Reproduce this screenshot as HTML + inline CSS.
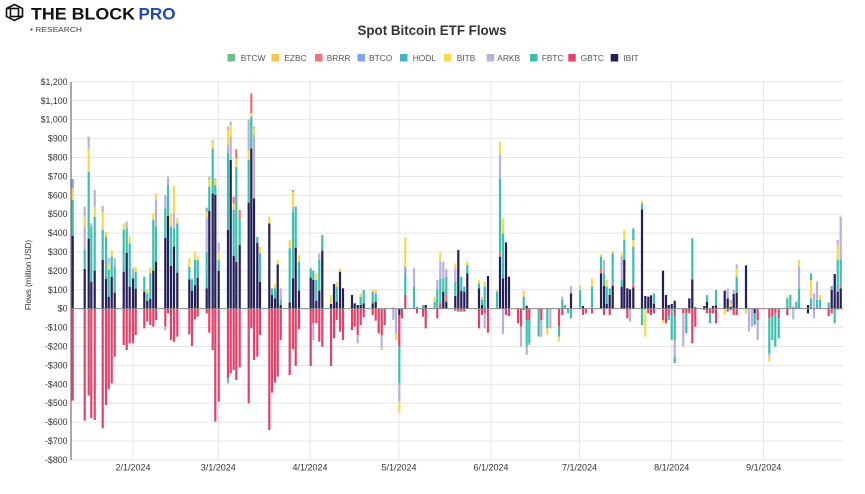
<!DOCTYPE html>
<html>
<head>
<meta charset="utf-8">
<style>
  html,body{margin:0;padding:0;background:#fff;}
  body{width:865px;height:494px;overflow:hidden;}
  svg{display:block;font-family:"Liberation Sans",Arial,sans-serif;}
</style>
</head>
<body>
<svg id="chart" width="865" height="494" viewBox="0 0 865 494" xmlns="http://www.w3.org/2000/svg">
  <rect x="0" y="0" width="865" height="494" fill="#ffffff"/>
  <!-- Logo -->
  <g fill="none" stroke="#111" stroke-width="1.6">
    <polygon points="14.5,4.5 22.5,8.5 22.5,16.5 14.5,20.5 6.5,16.5 6.5,8.5"/>
    <rect x="10.5" y="8.5" width="8" height="8"/>
    <line x1="6.5" y1="8.5" x2="10.5" y2="8.5"/>
    <line x1="22.5" y1="16.5" x2="18.5" y2="16.5"/>
  </g>
  <text x="31" y="19.5" font-size="16.5" font-weight="bold" fill="#111" textLength="104" lengthAdjust="spacingAndGlyphs">THE BLOCK</text>
  <text x="138.5" y="19.5" font-size="16.5" font-weight="bold" fill="#1d48b5" textLength="37" lengthAdjust="spacingAndGlyphs">PRO</text>
  <text x="30" y="32" font-size="7.6" fill="#444" textLength="52" lengthAdjust="spacingAndGlyphs">• RESEARCH</text>
  <!-- Title -->
  <text x="357.5" y="35" font-size="13.6" font-weight="bold" fill="#333" textLength="149" lengthAdjust="spacingAndGlyphs">Spot Bitcoin ETF Flows</text>
  <g id="legend"></g>
  <g id="grid"></g>
  <g id="bars"></g>
  <g id="axes"></g>
  <text transform="translate(31,275) rotate(-90)" text-anchor="middle" font-size="8" fill="#333">Flows (million USD)</text>
</svg>
<script>
(function(){
  var NS="http://www.w3.org/2000/svg";
  function el(tag,attrs,parent,text){
    var e=document.createElementNS(NS,tag);
    for(var k in attrs) e.setAttribute(k,attrs[k]);
    if(text!==undefined) e.textContent=text;
    parent.appendChild(e); return e;
  }
  // Legend
  var lg=document.getElementById('legend');
  var leg=[["BTCW","#6dbf89",227.5,240.7],["EZBC","#f8c750",271.5,284.3],["BRRR","#ef7474",315,326.7],
           ["BTCO","#7fa7f1",357.5,369],["HODL","#3fb7c2",400,412.7],["BITB","#f8da4e",444,456.7],
           ["ARKB","#b6b0e3",486.7,497.3],["FBTC","#3dbcab",530,541.7],["GBTC","#e2446b",568.3,580.7],
           ["IBIT","#222058",610.7,623.3]];
  leg.forEach(function(l){
    el('rect',{x:l[2],y:54,width:7.5,height:7.5,fill:l[1]},lg);
    el('text',{x:l[3],y:61,'font-size':8.4,fill:'#555'},lg,l[0]);
  });
  // Grid
  var g=document.getElementById('grid');
  var X0=71,X1=843,Z=308.67,S=0.189;
  for(var v=-800;v<=1200;v+=100){
    var y=Z-v*S;
    el('line',{x1:X0,x2:X1,y1:y,y2:y,stroke:'#e4e4e4','stroke-width':1},g);
    var a=Math.abs(v), s=a>=1000?(Math.floor(a/1000)+","+("00"+(a%1000)).slice(-3)):String(a);
    var lab=(v<0?"-$":"$")+s;
    el('text',{x:67.5,y:y+3,'text-anchor':'end','font-size':8.8,fill:'#333'},g,lab);
  }
  var months=[[133,"2/1/2024"],[218.3,"3/1/2024"],[310,"4/1/2024"],[399,"5/1/2024"],[491,"6/1/2024"],[579.5,"7/1/2024"],[671.7,"8/1/2024"],[763.7,"9/1/2024"]];
  months.forEach(function(m){
    el('line',{x1:m[0],x2:m[0],y1:82,y2:460,stroke:'#e4e4e4','stroke-width':1},g);
    el('text',{x:m[0],y:470.5,'text-anchor':'middle','font-size':9,fill:'#333'},g,m[1]);
  });
  // Bars
  var C={n:'#231f58',t:'#3dbfae',y:'#f6d94c',p:'#b7b0e0',b:'#7ea5ee',r:'#e0426b',s:'#ec7373',o:'#f6c452',g:'#6dbd86',h:'#3bb3c3'};
  var D=[
[72.7,"n468 t360 y325 b297","r962"],
[84.7,"n567 t510 p440 y410 p380","r1022"],
[88.7,"n476 t275 y205 p170","r947"],
[91.3,"n605 t440 p430","r1015"],
[94.7,"n572 t410 y380 p330","r1020"],
[102.7,"n540 t450 y395 p378","r1045"],
[106,"n597 t470 y455","r975"],
[108.7,"n650 t570 y550 p535","r928"],
[111.7,"n590 t530 y510","r910"],
[114.7,"n638 t560 p535","r830"],
[123.7,"n576 t450 y430","r795"],
[126.7,"n518 t445 p425","r810"],
[129.7,"n620 t490 y470","r790"],
[133,"n596 t590 p565","r790"],
[135.7,"n626 t575 y560","r765"],
[144.3,"n636 t590","r745"],
[147.3,"n662 t640 y628","r725"],
[150.3,"n656 t580 y562","r735"],
[153.3,"n572 t420 y400","r740"],
[156,"n545 t440 p360 y340","r720"],
[165.3,"n474 t385 p345","r740 p750"],
[168,"n408 t315 p290","r700"],
[171,"n558 t440 y400","r780"],
[174,"n500 t445 p400 y318","r785"],
[177.3,"n578 t430 y415","r770"],
[189.3,"n598 t560 y535","r763"],
[192,"n632 t600 p595","r798"],
[195,"n616 t540 y515","r718"],
[197.7,"n593 t540 y530","r710"],
[206.7,"n625 t515 p410 y395 b383","r700"],
[209.3,"n392 t320 y300 p290","r758"],
[212.7,"n340 t205 y185 p180","r810"],
[215.3,"n345 t315 y300 p295","r1025"],
[218.7,"n572 t540 y515 p488","r965"],
[228,"n450 t220 p195 y150 p140","r895 b910"],
[230.7,"n240 p170 y135 p125","r880"],
[233.7,"n528 t390 y370 s350","r870"],
[236.3,"n546 t260 y235 s208","r900"],
[239.7,"n495 t420 s390","r862"],
[248.7,"n368 t240 y210 p118","r970"],
[251.3,"n205 t110 y100 s40","r745"],
[254,"n355 p165 y145 p140","r840"],
[257.3,"n488 t470","r830"],
[260,"n606 t520 y500","r765"],
[269.3,"n430 y410","r1050"],
[272,"n645 t625","r938"],
[275,"n655 t625 y612","r908"],
[277.7,"n553 y540","r890"],
[280.7,"n675 t660 p625","r780"],
[289.7,"n667 t505 y480","r885"],
[293,"n595 t395 p380 y335 s330","r808"],
[295.7,"n503 t380","r858"],
[299,"n632 t545 y525","r748"],
[310.7,"n593 t565","r858"],
[313.3,"n600 t572","r730 p780"],
[316.3,"n663 t600 y580","r730"],
[319.3,"n632 t540 p520","r785"],
[322.3,"n512 t465","r800"],
[331,"n672 y645","r858"],
[334,"n612","r775"],
[336.7,"n665 t620 y605","r720"],
[340,"n575 y565","r755"],
[343,"n625","r780"],
[352,"n645","r750"],
[354.7,"n670","r740"],
[357.7,"n675","r765 p790"],
[360.7,"n675 t650 y640","r735"],
[363.7,"n670 t630","r712"],
[372.7,"n670 t635 y630","r705"],
[375.7,"n665 t640 y630","r722"],
[378.7,"","r760"],
[381.7,"","r765 p800 o810"],
[384.7,"","r735"],
[393.3,"y680","p720"],
[396,"","p760 y780"],
[399.3,"","n705 r800 t910 p965 y1000"],
[402,"","r715"],
[405.3,"r645 t585 b560 y472",""],
[414,"t620 p565",""],
[417,"t680","r700"],
[423,"t675","r710"],
[425.7,"n675","r745"],
[434.7,"t665 y650",""],
[437.3,"t630 p600","r715"],
[440.3,"r670 t595 p545 y518",""],
[443.3,"n635 t595 p545",""],
[446.3,"n665 s645 t590 p570 y565",""],
[455.3,"n648 t605 p565 y550","r692"],
[458.3,"n510","r695"],
[461.3,"n632 t590","r695"],
[464.3,"n635 t620","r695"],
[467.3,"n580 t555 y545",""],
[479,"n625 t610 y600","r745"],
[482,"n675 t660 y650","r705"],
[484.7,"t620 y605","r700 p745"],
[488,"n588","r758"],
[497,"t635 y628",""],
[500,"n530 s518 t295 p225 y185",""],
[503,"n595 t460 y415","p762"],
[506,"n487","r705"],
[509,"n590","r708"],
[518,"","r730"],
[521,"","r740 p800"],
[523.7,"t650 y632","r690"],
[526.7,"n677","r720 t800 p825"],
[529.3,"","r720 t790 p795"],
[538.7,"","t770"],
[541.3,"","r720 p770"],
[547.3,"","t745 y765"],
[550.3,"","p745"],
[559,"","r740 t770 y785"],
[562.3,"t660 p650","r705"],
[565,"t675",""],
[568,"","t700"],
[571,"n640 p618","t715"],
[580,"t630 y615",""],
[583,"n678","r705"],
[586,"","r700"],
[592,"t620 y595","r700"],
[601,"n580 s570 t530 y522",""],
[604,"n618 t580 p540","r705"],
[606.7,"n672 t620 y600",""],
[609.7,"n645 t625","r705"],
[612.7,"n618 s608 t520 y512",""],
[621.7,"n620 t600 p530 y520",""],
[624.3,"n540 t480 y450",""],
[627.3,"n625","r715"],
[630,"n628","p725"],
[633.3,"n622 s610 t500 y480 t445",""],
[642,"n388 t370 y362","t735"],
[645.3,"n648","y770"],
[648.3,"n650","r700"],
[651,"n646","r705"],
[654,"n672 t640","r700"],
[663,"n572","r720 y730"],
[666,"n645","r730"],
[668.7,"n675","r705 t720"],
[671.7,"n672","t780"],
[674.7,"n662","r710 t780 p830 t850"],
[683.3,"","r700 p800"],
[686.3,"","r700 t760"],
[689.3,"n655","r700"],
[692.3,"n598 t475","r790"],
[695.3,"n682","r740"],
[704.3,"n678","r690"],
[707,"n665 t645","r700"],
[710,"","r700 t730"],
[713,"n678","r700"],
[716,"n676 t630","r730"],
[724.7,"n632","y705"],
[727.7,"n655 p625","r695"],
[730.7,"n680 y670 p660","r690"],
[733.7,"n642 p630","r705"],
[736.7,"n638 t590 y565 p553","r705"],
[746,"n556","y700"],
[749,"","p755"],
[752,"","p740"],
[754.7,"","n700 t735"],
[757.7,"","r720 p780"],
[769.3,"","r715 t820 p830 y845"],
[772.3,"","r710 t780"],
[775.3,"","r700 t800"],
[778.7,"","r715 t775"],
[787.3,"t655 y650","r705"],
[790.3,"t645",""],
[793.3,"t680","p718"],
[796.3,"t665",""],
[799,"t625 p560 y540",""],
[808,"n675","n700"],
[811,"t655 y600 t580",""],
[814,"p640","p715"],
[817,"t660 p605",""],
[820,"t660 y645",""],
[828.7,"t668","r708"],
[831.7,"n630 t618","r700"],
[834.7,"n582","t730"],
[837.7,"n635 t540 y495 p480","p690"],
[840.7,"n625 s610 t540 p410",""]
  ];
  var bg=document.getElementById('bars');
  var W=2.2;
  function Y(z){return 80+z/3;}
  D.forEach(function(d){
    var x=d[0]-W/2;
    var prev=686;
    if(d[1]){
      d[1].split(' ').forEach(function(s){
        var c=s[0], z=parseFloat(s.slice(1));
        if(z<prev){ el('rect',{x:x,y:Y(z),width:W,height:(prev-z)/3,fill:C[c]},bg); prev=z; }
      });
    }
    prev=686;
    if(d[2]){
      d[2].split(' ').forEach(function(s){
        var c=s[0], z=parseFloat(s.slice(1));
        if(z>prev){ el('rect',{x:x,y:Y(prev),width:W,height:(z-prev)/3,fill:C[c]},bg); prev=z; }
      });
    }
  });
  // Axes
  var ax=document.getElementById('axes');
  el('line',{x1:X0,x2:X1,y1:Z,y2:Z,stroke:'#8a8a8a','stroke-width':1},ax);
  el('line',{x1:X0,x2:X0,y1:82,y2:460,stroke:'#555','stroke-width':1},ax);
})();
</script>
</body>
</html>
